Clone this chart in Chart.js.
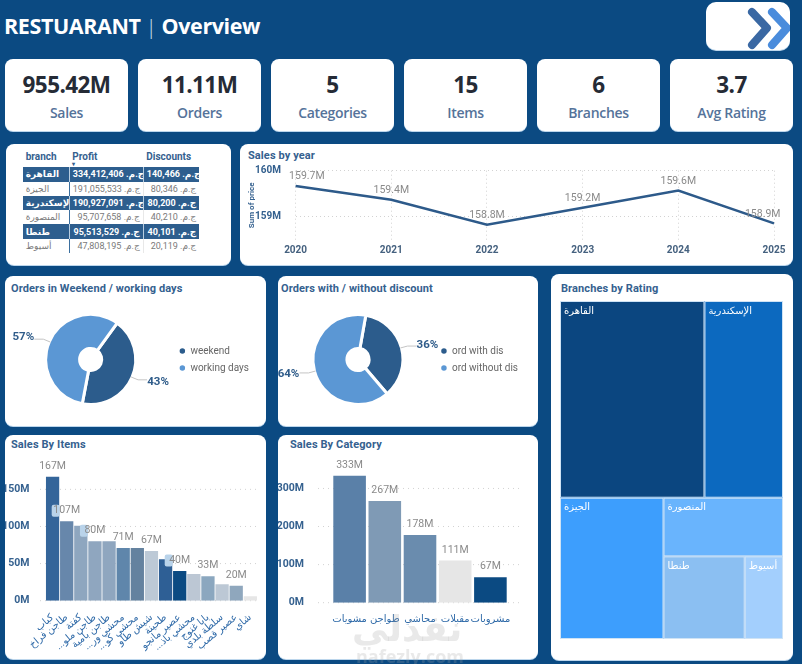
<!DOCTYPE html>
<html>
<head>
<meta charset="utf-8">
<title>Restuarant Overview</title>
<script src="https://cdn.jsdelivr.net/npm/chart.js@4"></script>
<style>
    html, body { margin: 0; padding: 0; }
    body { width: 802px; height: 664px; overflow: hidden; background: #0b4a82; position: relative; font-family: "Open Sans", "DejaVu Sans", sans-serif; }
    .card { position: absolute; background: #fff; border-radius: 8px; box-shadow: 0 1px 0 #bcd6ec; }
    .abs { position: absolute; }
    canvas { position: absolute; }
    .title { position: absolute; font: bold 11px Roboto, sans-serif; letter-spacing: .1px; color: #35618f; white-space: nowrap; }
    #head { left: 4px; top: 11px; color: #fff; font: 700 21.5px "Open Sans", sans-serif; letter-spacing: -.4px; white-space: nowrap; }
    #head i { font: 300 21px "Open Sans", sans-serif; margin: 0 5px; color: #cfe0f0; }
    .kpi { top: 59px; width: 123px; height: 72px; text-align: center; }
    .kpi b { display: block; margin-top: 9px; font: 700 22.5px/34px "Open Sans", sans-serif; letter-spacing: -.6px; color: #252b36; }
    .kpi span { display: block; margin-top: 1px; font: 600 14px/20px "Open Sans", sans-serif; letter-spacing: -.3px; color: #55739a; }
    #tbl { position: absolute; left: 22.7px; top: 148px; width: 176.5px; border-collapse: collapse; table-layout: fixed; font: 9px Roboto, "DejaVu Sans", sans-serif; }
    #tbl th { height: 19.3px; padding: 0 0 3px 3px; text-align: left; font: bold 10px Roboto, sans-serif; color: #35618f; position: relative; box-sizing: border-box; }
    #tbl td { height: 14.3px; padding: 0 3px; box-sizing: border-box; white-space: nowrap; overflow: hidden; color: #7a7a7a; border-right: 1px solid #e8e8e8; }
    #tbl td.num { text-align: right; }
    #tbl td:first-child { border-right: 1px solid #3b6f9f; }
    #tbl td:last-child { border-right: 0; }
    #tbl tr.dark td { background: #2d5e8e; color: #fff; font-weight: bold; border-right: 1px solid #b8cde0; }
    #tbl tr.dark td:last-child { border-right: 0; }
    .wm { position: absolute; color: rgba(165,165,165,.24); white-space: nowrap; font-weight: bold; }
</style>
</head>
<body>

<div class="abs" id="head">RESTUARANT<i>|</i>Overview</div>

<div class="card" style="left:706px;top:2px;width:84px;height:48px;border-radius:10px;overflow:hidden">
    <svg width="84" height="48">
        <polyline points="46,10 61,26 46,43" fill="none" stroke="#3a68a3" stroke-width="8" stroke-linecap="round" stroke-linejoin="round"/>
        <polyline points="66,10 81,26 66,43" fill="none" stroke="#4a8cdc" stroke-width="8" stroke-linecap="round" stroke-linejoin="round"/>
    </svg>
</div>

<div id="kpis"></div>

<div class="card" style="left:6px;top:144px;width:225px;height:121px"></div>
<table id="tbl">
    <colgroup><col style="width:46.6px"><col style="width:74px"><col style="width:55.9px"></colgroup>
    <thead><tr><th>branch</th><th>Profit<span style="position:absolute;left:3px;top:12px;font-size:6px;color:#35618f">&#9662;</span></th><th>Discounts</th></tr></thead>
    <tbody id="tblBody"></tbody>
</table>

<div class="card" style="left:240px;top:144px;width:553px;height:121px"></div>
<div class="title" style="left:248px;top:149px">Sales by year</div>
<canvas id="lineChart" width="553" height="121" style="left:240px;top:144px"></canvas>

<div class="card" style="left:5px;top:276px;width:261px;height:150px"></div>
<div class="title" style="left:11px;top:282px">Orders in Weekend / working days</div>
<canvas id="weekChart" width="261" height="133" style="left:5px;top:293px"></canvas>

<div class="card" style="left:278px;top:276px;width:260px;height:150px"></div>
<div class="title" style="left:281px;top:282px">Orders with / without discount</div>
<canvas id="discChart" width="260" height="133" style="left:278px;top:293px"></canvas>

<div class="card" style="left:5px;top:435px;width:261px;height:224px"></div>
<div class="title" style="left:11px;top:438px">Sales By Items</div>
<canvas id="itemsChart" width="261" height="224" style="left:5px;top:435px"></canvas>

<div class="card" style="left:278px;top:435px;width:260px;height:224px"></div>
<div class="title" style="left:290px;top:438px">Sales By Category</div>
<canvas id="catChart" width="260" height="224" style="left:278px;top:435px"></canvas>

<div class="card" style="left:551px;top:274px;width:242px;height:386px"></div>
<div class="title" style="left:561px;top:282px">Branches by Rating</div>
<canvas id="treeChart" width="223" height="338" style="left:560px;top:301px"></canvas>

<div class="wm" style="left:352px;top:608px;font-size:36px;font-family:'DejaVu Sans'">نفذلي</div>
<div class="wm" style="left:356px;top:644px;font-size:18px;font-family:'Open Sans'">nafezly.com</div>

<script>
    // les valeurs
    const kpiValues = ['955.42M', '11.11M', '5', '15', '6', '3.7'];
    const kpiNames = ['Sales', 'Orders', 'Categories', 'Items', 'Branches', 'Avg Rating'];

    const branches = ['القاهرة', 'الجيزة', 'الإسكندرية', 'المنصورة', 'طنطا', 'أسيوط'];
    const branchProfit = ['334,412,406', '191,055,533', '190,927,091', '95,707,658', '95,513,529', '47,808,195'];
    const branchDiscounts = ['140,466', '80,346', '80,200', '40,210', '40,101', '20,119'];
    const currency = 'ج.م.';

    const years = ['2020', '2021', '2022', '2023', '2024', '2025'];
    const yearSales = [159.67, 159.37, 158.83, 159.2, 159.57, 158.86];

    const weekNames = ['weekend', 'working days'];
    const weekShare = [43, 57];
    const discNames = ['ord with dis', 'ord without dis'];
    const discShare = [36, 64];

    const items = ['كباب', 'طاجن فراخ', 'كفتة', '...طاجن ملو', 'طاجن بامية', '...محشي ور', '...محشي كو', 'شيش طاو', 'طحينة', 'عصير مانجو', '...محشي باذ', 'بابا غنوج', 'سلطة بلدي', 'عصير قصب', 'شاي'];
    const itemSales = [167, 107, 101, 80, 80, 71, 71, 67, 56, 40, 36, 33, 22, 20, 6];
    const itemColors = ['#34659a', '#6787ab', '#8ea6bf', '#8fa6bf', '#8fa6bf', '#5f86ab', '#64829f', '#bcc9d6', '#2e5f95', '#0b4a82', '#bcc7d4', '#8ba7bf', '#bcc8d5', '#8fa7bd', '#e6e6e6'];
    const itemsWithLabel = [0, 1, 3, 5, 7, 9, 11, 13];
    const itemsWithChip = [1, 3, 9];

    const categories = ['مشويات', 'طواجن', 'محاشي', 'مقبلات', 'مشروبات'];
    const categorySales = [333, 267, 178, 111, 67];
    const categoryColors = ['#5a80a8', '#7f9ab5', '#6a8cae', '#e6e6e6', '#0b4a82'];

    // part de chaque branche dans le treemap (même ordre que branches)
    const branchRatingShare = [37.7, 19.4, 20.5, 9.3, 8.9, 4.2];
    const branchColors = ['#0b4680', '#3d9efd', '#0c69bf', '#69b4fd', '#8bbff2', '#a3cffd'];
    const treeNesting = [[0, 2], [1, [3, [4, 5]]]];

    const blue = '#35618f';
    const dotted = '#d2d2d2';

    // Cartes KPI
    let kpiHtml = '';
    for (let i = 0; i < kpiValues.length; i++) {
        kpiHtml += '<div class="card kpi" style="left:' + (5 + i * 133) + 'px"><b>' + kpiValues[i] + '</b><span>' + kpiNames[i] + '</span></div>';
    }
    document.getElementById('kpis').innerHTML = kpiHtml;

    // Tableau
    let rows = '';
    for (let i = 0; i < branches.length; i++) {
        rows += '<tr class="' + (i % 2 === 0 ? 'dark' : '') + '"><td style="font-family:\'DejaVu Sans\'">' + branches[i] + '</td>' +
            '<td class="num">' + currency + ' ' + branchProfit[i] + '</td>' +
            '<td class="num">' + currency + ' ' + branchDiscounts[i] + '</td></tr>';
    }
    document.getElementById('tblBody').innerHTML = rows;

    Chart.defaults.animation = false;
    Chart.defaults.responsive = false;
    Chart.defaults.font.family = 'Roboto, "DejaVu Sans", sans-serif';
    Chart.defaults.plugins.tooltip.enabled = false;
    Chart.defaults.plugins.legend.display = false;
    Chart.defaults.layout.autoPadding = false;

    // Etiquettes de valeur au-dessus des points / barres
    function valueLabels(format, offset, shown, chips, overflow) {
        return {
            id: 'valueLabels',
            afterDatasetsDraw(chart) {
                const ctx = chart.ctx;
                const points = chart.getDatasetMeta(0).data;
                const values = chart.data.datasets[0].data;
                ctx.save();
                ctx.font = '10.5px Roboto';
                ctx.textAlign = 'center';
                ctx.textBaseline = 'middle';
                points.forEach(function (p, i) {
                    if (shown && !shown.includes(i)) return;
                    const y = p.y - offset;
                    let x = p.x;
                    const text = format(values[i]);
                    if (overflow !== undefined) {
                        // on garde le texte près de la zone du graphique
                        const half = ctx.measureText(text).width / 2;
                        x = Math.max(chart.chartArea.left - overflow + half, Math.min(chart.chartArea.right + overflow - half, x));
                    }
                    if (chips && chips.includes(i)) {
                        ctx.fillStyle = '#b9d3ea';
                        ctx.beginPath();
                        ctx.roundRect(x - 15, y - 6, 8, 12, 2);
                        ctx.fill();
                    }
                    ctx.fillStyle = '#8a8a8a';
                    ctx.fillText(text, x, y);
                });
                ctx.restore();
            }
        };
    }

    // Lignes pointillées horizontales, plus longues que la zone des barres
    function dottedGrid(x1, x2) {
        return {
            id: 'dottedGrid',
            beforeDatasetsDraw(chart) {
                const ctx = chart.ctx;
                ctx.save();
                ctx.strokeStyle = dotted;
                ctx.setLineDash([1, 4]);
                chart.scales.y.ticks.forEach(function (t) {
                    const y = chart.scales.y.getPixelForValue(t.value);
                    ctx.beginPath();
                    ctx.moveTo(x1, y);
                    ctx.lineTo(x2, y);
                    ctx.stroke();
                });
                ctx.restore();
            }
        };
    }

    // Pourcentages + petit trait pour les donuts
    const percentLabels = {
        id: 'percentLabels',
        afterDatasetsDraw(chart) {
            const ctx = chart.ctx;
            const values = chart.data.datasets[0].data;
            ctx.save();
            ctx.font = 'bold 11.5px Roboto';
            ctx.textAlign = 'center';
            ctx.textBaseline = 'middle';
            chart.getDatasetMeta(0).data.forEach(function (arc, i) {
                const mid = (arc.startAngle + arc.endAngle) / 2;
                const sx = arc.x + Math.cos(mid) * (arc.outerRadius - 1);
                const sy = arc.y + Math.sin(mid) * (arc.outerRadius - 1);
                const side = Math.cos(mid) >= 0 ? 1 : -1;
                const dy = Math.sin(mid) * 12;
                ctx.strokeStyle = '#c4c4c4';
                ctx.beginPath();
                ctx.moveTo(sx, sy);
                ctx.lineTo(sx + side * 7, sy + dy * 0.6);
                ctx.lineTo(sx + side * 16, sy + dy * 0.6);
                ctx.stroke();
                ctx.fillStyle = '#2f5c8a';
                ctx.fillText(values[i] + '%', sx + side * 27, sy + dy);
            });
            ctx.restore();
        }
    };

    function donut(id, names, share, rotation, padding) {
        return new Chart(document.getElementById(id), {
            type: 'doughnut',
            data: {
                labels: names,
                datasets: [{ data: share, backgroundColor: ['#2c5c8c', '#5b97d4'], borderColor: '#fff', borderWidth: 3 }]
            },
            options: {
                rotation: rotation,
                radius: 45,
                cutout: 16,
                layout: { padding: padding },
                plugins: {
                    legend: {
                        display: true,
                        position: 'right',
                        labels: { usePointStyle: true, pointStyle: 'circle', boxWidth: 6, boxHeight: 6, padding: 7, color: '#666', font: { size: 10 } }
                    }
                }
            },
            plugins: [percentLabels]
        });
    }

    donut('weekChart', weekNames, weekShare, 36, { left: 4, right: 7 });
    donut('discChart', discNames, discShare, 10, { left: 4, right: 10 });

    // Courbe par année
    new Chart(document.getElementById('lineChart'), {
        type: 'line',
        data: {
            labels: years,
            datasets: [{ data: yearSales, borderColor: '#2d5a8a', borderWidth: 2.5, pointRadius: 0, tension: 0 }]
        },
        options: {
            layout: { padding: { top: 26.7, right: 19 } },
            scales: {
                x: {
                    offset: false,
                    afterFit(s) { s.height = 25; },
                    grid: { color: dotted, drawTicks: false, border: false, tickBorderDash: [1, 3] },
                    border: { display: false, dash: [1, 3] },
                    ticks: { padding: 4, maxRotation: 0, color: '#45617f', font: { size: 10, weight: 'bold' } }
                },
                y: {
                    min: 158.5,
                    max: 160,
                    afterFit(s) { s.width = 55.6; },
                    afterBuildTicks(s) { s.ticks = [{ value: 159 }, { value: 160 }]; },
                    grid: { color: dotted, drawTicks: false },
                    border: { display: false, dash: [1, 3] },
                    title: { display: true, text: 'Sum of price', color: blue, font: { size: 8, weight: 'bold' }, padding: { top: 7, bottom: 0 } },
                    ticks: { padding: 14.6, color: blue, font: { size: 10, weight: 'bold' }, callback: function (v) { return v + 'M'; } }
                }
            }
        },
        plugins: [valueLabels(function (v) { return v.toFixed(1) + 'M'; }, 9.3, null, null, 6.5)]
    });

    function barChart(id, names, values, colors, o) {
        return new Chart(document.getElementById(id), {
            type: 'bar',
            data: {
                labels: names,
                datasets: [{ data: values, backgroundColor: colors, barPercentage: o.barPct, categoryPercentage: 1 }]
            },
            options: {
                layout: { padding: { top: o.top, right: o.right } },
                scales: {
                    x: {
                        afterFit(s) { s.height = o.xHeight; },
                        grid: { display: false },
                        border: { display: false },
                        ticks: { autoSkip: false, minRotation: o.rotation, maxRotation: o.rotation, padding: 3, color: '#2f6aa8', font: { size: 10 } }
                    },
                    y: {
                        min: 0,
                        max: o.max,
                        afterFit(s) { s.width = o.yWidth; },
                        afterBuildTicks(s) { s.ticks = o.ticks.map(function (v) { return { value: v }; }); },
                        grid: { display: false },
                        border: { display: false },
                        ticks: { padding: o.tickPad, color: blue, font: { size: 10.5, weight: 'bold' }, callback: function (v) { return v + 'M'; } }
                    }
                }
            },
            plugins: [dottedGrid(o.gridFrom, o.gridTo), valueLabels(function (v) { return v + 'M'; }, 10.5, o.shown, o.chips)]
        });
    }

    barChart('itemsChart', items, itemSales, itemColors, {
        barPct: 0.94, top: 35.8, right: 8.6, xHeight: 58.3, yWidth: 40.5, max: 175, ticks: [0, 50, 100, 150],
        rotation: 40, tickPad: 8, gridFrom: 35, gridTo: 253, shown: itemsWithLabel, chips: itemsWithChip
    });

    barChart('catChart', categories, categorySales, categoryColors, {
        barPct: 0.926, top: 34.4, right: 30, xHeight: 56.3, yWidth: 54, max: 350, ticks: [0, 100, 200, 300],
        rotation: 0, tickPad: 20, gridFrom: 40, gridTo: 242
    });

    // Treemap : Chart.js n'a pas ce type, on découpe l'espace 0-100 selon les parts
    // et on passe par les échelles pour obtenir les pixels
    function sumOf(node) {
        if (typeof node === 'number') return branchRatingShare[node];
        return sumOf(node[0]) + sumOf(node[1]);
    }

    function layoutTree(node, x0, y0, x1, y1, vertical, out) {
        if (typeof node === 'number') {
            out[node] = { x0: x0, y0: y0, x1: x1, y1: y1 };
            return;
        }
        const part = sumOf(node[0]) / sumOf(node);
        if (vertical) {
            const ym = y1 - (y1 - y0) * part;
            layoutTree(node[0], x0, ym, x1, y1, false, out);
            layoutTree(node[1], x0, y0, x1, ym, false, out);
        } else {
            const xm = x0 + (x1 - x0) * part;
            layoutTree(node[0], x0, y0, xm, y1, true, out);
            layoutTree(node[1], xm, y0, x1, y1, true, out);
        }
    }

    const treeCells = [];
    layoutTree(treeNesting, 0, 0, 100, 100, true, treeCells);

    const treeDraw = {
        id: 'treeDraw',
        beforeDatasetsDraw(chart) {
            const ctx = chart.ctx;
            const sx = chart.scales.x;
            const sy = chart.scales.y;
            ctx.save();
            treeCells.forEach(function (c, i) {
                const left = sx.getPixelForValue(c.x0);
                const right = sx.getPixelForValue(c.x1);
                const top = sy.getPixelForValue(c.y1);
                const bottom = sy.getPixelForValue(c.y0);
                ctx.fillStyle = branchColors[i];
                ctx.fillRect(left, top, right - left, bottom - top);
                ctx.strokeStyle = '#cfe3f5';
                ctx.lineWidth = 1;
                ctx.strokeRect(left + 0.5, top + 0.5, right - left - 1, bottom - top - 1);
                ctx.fillStyle = '#fff';
                ctx.font = '10px "DejaVu Sans"';
                ctx.textBaseline = 'middle';
                ctx.textAlign = 'left';
                ctx.fillText(branches[i], left + 4, top + 10);
            });
            ctx.restore();
        }
    };

    new Chart(document.getElementById('treeChart'), {
        type: 'scatter',
        data: {
            datasets: [{
                data: treeCells.map(function (c) { return { x: (c.x0 + c.x1) / 2, y: (c.y0 + c.y1) / 2 }; }),
                pointRadius: 0
            }]
        },
        options: {
            scales: {
                x: { display: false, min: 0, max: 100 },
                y: { display: false, min: 0, max: 100 }
            }
        },
        plugins: [treeDraw]
    });
</script>
</body>
</html>
